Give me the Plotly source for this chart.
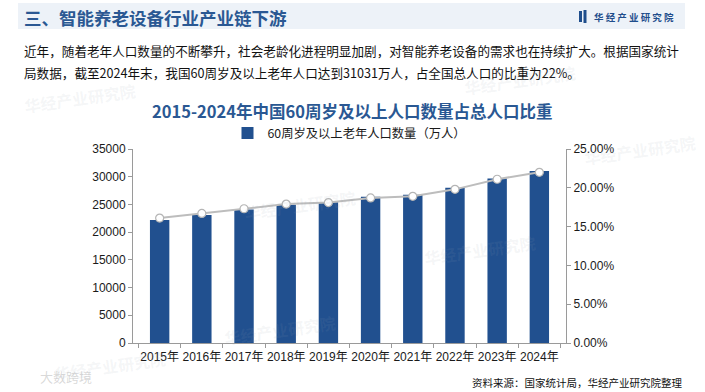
import plotly.graph_objects as go

years = ["2015年", "2016年", "2017年", "2018年", "2019年", "2020年", "2021年", "2022年", "2023年", "2024年"]
elderly_pop = [22200, 23086, 24090, 24949, 25388, 26402, 26736, 28004, 29697, 31031]
elderly_share = [0.161, 0.167, 0.173, 0.179, 0.181, 0.187, 0.189, 0.198, 0.211, 0.220]
left_ticks = [0, 5000, 10000, 15000, 20000, 25000, 30000, 35000]
right_ticks = [0, 0.05, 0.10, 0.15, 0.20, 0.25]

W, H = 705, 392
ML, MR, MT, MB = 133, 139, 149, 49
PW, PH = W - ML - MR, H - MT - MB

def px(x):
    return (x - ML) / PW

def py(y):
    return (H - MB - y) / PH

FONT = "Arial, 'Liberation Sans', 'Noto Sans CJK SC', sans-serif"
CJK = "'Noto Sans CJK SC', 'Microsoft YaHei', sans-serif"
BLUE = "#21508f"

fig = go.Figure()
fig.add_trace(go.Bar(
    x=years, y=elderly_pop, name="60周岁及以上老年人口数量（万人）",
    marker=dict(color=BLUE, line=dict(width=0)), width=0.46, yaxis="y",
))
fig.add_trace(go.Scatter(
    x=years, y=elderly_share, mode="lines+markers", showlegend=False,
    line=dict(color="#bdbdbd", width=2),
    marker=dict(color="white", size=8, line=dict(color="#b5b5b5", width=1.2)),
    yaxis="y2",
))

shapes = [
    dict(type="rect", xref="paper", yref="paper", x0=px(18), x1=px(685), y0=py(29), y1=py(3),
         fillcolor="#edf2f8", line=dict(width=0), layer="below"),
    dict(type="rect", xref="paper", yref="paper", x0=px(579), x1=px(582), y0=py(22), y1=py(11),
         fillcolor="#1f4e8c", line=dict(width=0)),
    dict(type="rect", xref="paper", yref="paper", x0=px(583.5), x1=px(586.5), y0=py(23), y1=py(10),
         fillcolor="#1f4e8c", line=dict(width=0)),
]

annotations = [
    dict(text="<b>三、智能养老设备行业产业链下游</b>", x=px(22), y=py(17), xanchor="left", yanchor="middle",
         font=dict(family=CJK, size=17.5, color="#2a5893")),
    dict(text="<b>华 经 产 业 研 究 院</b>", x=px(592), y=py(17), xanchor="left", yanchor="middle",
         font=dict(family=CJK, size=9.5, color="#1f4e8c")),
    dict(text="近年，随着老年人口数量的不断攀升，社会老龄化进程明显加剧，对智能养老设备的需求也在持续扩大。根据国家统计",
         x=px(22), y=py(50), xanchor="left", yanchor="middle",
         font=dict(family=CJK, size=12.6, color="#111111")),
    dict(text="局数据，截至2024年末，我国60周岁及以上老年人口达到31031万人，占全国总人口的比重为22%。",
         x=px(22), y=py(72), xanchor="left", yanchor="middle",
         font=dict(family=CJK, size=12.6, color="#111111")),
    dict(text="<b>2015-2024年中国60周岁及以上人口数量占总人口比重</b>", x=px(352), y=py(111),
         xanchor="center", yanchor="middle",
         font=dict(family=CJK, size=16.5, color="#2a5893")),
    dict(text="资料来源：国家统计局，华经产业研究院整理", x=px(684), y=py(382), xanchor="right", yanchor="middle",
         font=dict(family=CJK, size=10.5, color="#111111")),
]

# faint watermarks
for (wx, wy, s) in [(80, 98, 16), (520, 80, 16), (300, 205, 16), (480, 250, 16), (280, 330, 16),
                    (640, 150, 16), (110, 366, 16)]:
    annotations.append(dict(text="<b>华经产业研究院</b>", x=px(wx), y=py(wy), xanchor="center", yanchor="middle",
                            textangle=-8, showarrow=False,
                            font=dict(family=CJK, size=s, color="rgba(150,160,175,0.11)")))
annotations.append(dict(text="大数跨境", x=px(38), y=py(376), xanchor="left", yanchor="middle", showarrow=False,
                        font=dict(family=CJK, size=13, color="rgba(170,170,170,0.45)")))

for a in annotations:
    a.setdefault("xref", "paper")
    a.setdefault("yref", "paper")
    a.setdefault("showarrow", False)

axis_common = dict(showline=True, linecolor="#9a9a9a", linewidth=1, ticks="outside", ticklen=4,
                   tickcolor="#9a9a9a", showgrid=False, zeroline=False, automargin=False,
                   tickfont=dict(family=FONT, size=12, color="#1a1a1a"))

fig.update_layout(
    width=W, height=H, autosize=False,
    margin=dict(l=ML, r=MR, t=MT, b=MB, pad=0),
    paper_bgcolor="white", plot_bgcolor="white",
    font=dict(family=FONT),
    bargap=0.54,
    shapes=shapes,
    annotations=annotations,
    legend=dict(orientation="h", x=0.5, xanchor="center", y=py(133), yanchor="middle",
                font=dict(family=CJK, size=12.3, color="#1a1a1a"), bgcolor="rgba(0,0,0,0)",
                itemwidth=30),
    xaxis=dict(**axis_common, type="category", tickson="boundaries", tickangle=0, ticklabelstandoff=3),
    yaxis=dict(**axis_common, range=[0, 35000], tickvals=left_ticks, ticktext=[str(v) for v in left_ticks]),
    yaxis2=dict(**axis_common, range=[0, 0.25], tickvals=right_ticks, tickformat=".2%",
                overlaying="y", side="right"),
)

fig.write_html("out.html", config={"displayModeBar": False},
               post_script="document.body.style.margin='0';document.body.style.padding='0';")
